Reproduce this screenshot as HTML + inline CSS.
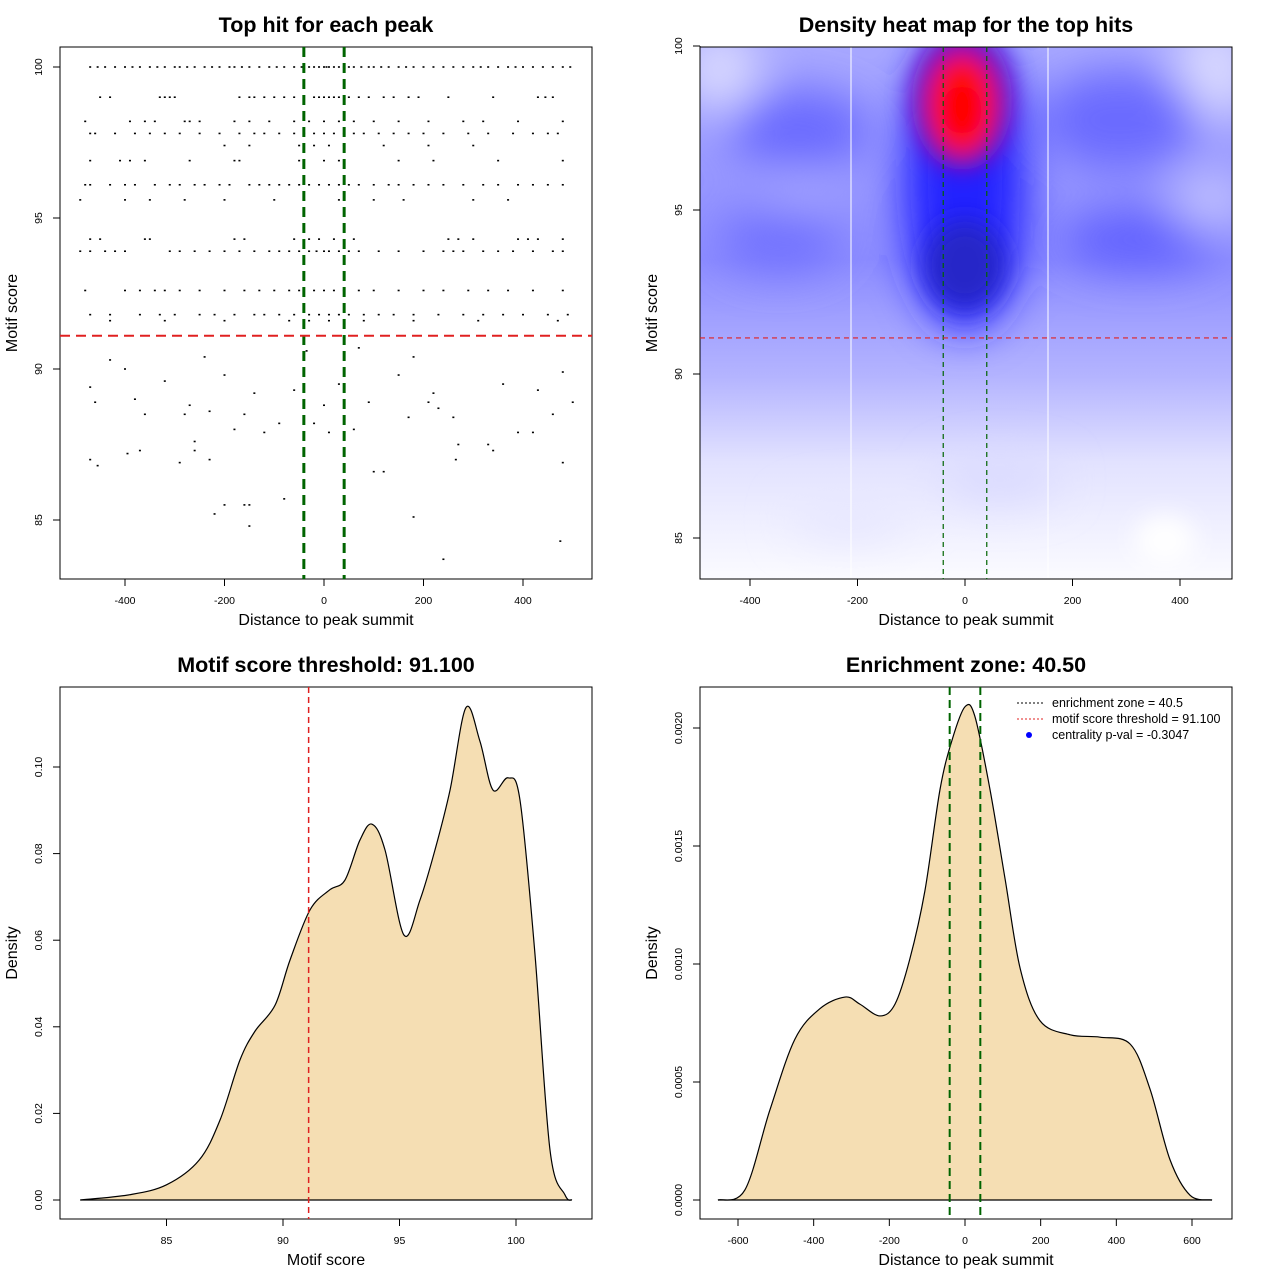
<!DOCTYPE html>
<html><head><meta charset="utf-8"><style>
html,body{margin:0;padding:0;background:#fff;}
svg{display:block;font-family:"Liberation Sans",sans-serif;}
</style></head><body>
<svg id="s" width="1280" height="1280" viewBox="0 0 1280 1280" xmlns="http://www.w3.org/2000/svg">
<defs>
<clipPath id="hc"><rect x="700" y="47" width="532" height="532"/></clipPath>
<filter id="bl" x="-50%" y="-50%" width="200%" height="200%"><feGaussianBlur stdDeviation="22"/></filter>
<filter id="bl2" x="-50%" y="-50%" width="200%" height="200%"><feGaussianBlur stdDeviation="12"/></filter>
<linearGradient id="bg" x1="0" y1="0" x2="0" y2="1">
<stop offset="0" stop-color="#a8a8ff"/><stop offset="0.4" stop-color="#8c8cff"/><stop offset="0.62" stop-color="#b4b4ff"/><stop offset="0.78" stop-color="#e2e2ff"/><stop offset="1" stop-color="#fbfbff"/>
</linearGradient>
</defs>
<g id="heat" clip-path="url(#hc)">
<rect x="700" y="47" width="532" height="532" fill="url(#bg)"/>
<g filter="url(#bl)">
<ellipse cx="720" cy="70" rx="40" ry="40" fill="#d8d8ff"/>
<ellipse cx="1215" cy="70" rx="40" ry="50" fill="#d8d8ff"/>
<ellipse cx="800" cy="130" rx="70" ry="40" fill="#6a6aff"/>
<ellipse cx="1120" cy="120" rx="80" ry="50" fill="#6a6aff"/>
<ellipse cx="1140" cy="240" rx="80" ry="30" fill="#6060ff"/>
<ellipse cx="780" cy="240" rx="60" ry="30" fill="#7070ff"/>
<ellipse cx="800" cy="190" rx="40" ry="20" fill="#a8a8ff"/>
<ellipse cx="1210" cy="200" rx="40" ry="30" fill="#c0c0ff"/>
<ellipse cx="965" cy="180" rx="62" ry="150" fill="#2020ff"/>
<ellipse cx="1000" cy="480" rx="60" ry="20" fill="#d8d8ff"/>
<ellipse cx="850" cy="520" rx="60" ry="20" fill="#e6e6ff"/>
</g>
<g filter="url(#bl2)">
<ellipse cx="965" cy="265" rx="40" ry="45" fill="#2828c8"/>
<ellipse cx="962" cy="100" rx="50" ry="70" fill="#7010c0"/>
<ellipse cx="962" cy="105" rx="35" ry="52" fill="#ff1010"/>
<ellipse cx="962" cy="110" rx="20" ry="25" fill="#ff0000"/>
<ellipse cx="1165" cy="540" rx="30" ry="25" fill="#ffffff"/>
</g>
<line x1="851" y1="47" x2="851" y2="579" stroke="#fff" stroke-width="1"/>
<line x1="1048" y1="47" x2="1048" y2="579" stroke="#fff" stroke-width="1"/>
</g>
</svg>
<script>
const hitRows = [
 [100,[-470,-455,-440,-420,-400,-385,-370,-350,-335,-320,-300,-290,-275,-260,-240,-225,-210,-190,-180,-165,-150,-130,-110,-95,-80,-60,-45,-30,-20,-10,0,5,10,20,30,40,50,60,75,90,100,115,130,150,165,180,200,220,240,260,280,300,315,330,350,370,385,400,420,440,460,480,495]],
 [99,[-450,-430,-330,-320,-310,-300,-170,-150,-140,-120,-100,-80,-60,-20,-10,0,10,20,30,50,70,90,120,140,170,190,250,340,430,445,460]],
 [98.2,[-480,-390,-360,-340,-280,-270,-250,-180,-150,-110,-60,-30,0,30,60,100,150,210,280,320,390,480]],
 [97.8,[-470,-460,-420,-380,-350,-320,-290,-250,-210,-170,-140,-120,-90,-60,-40,-20,0,20,40,60,80,110,140,170,200,240,290,330,380,420,450,470]],
 [97.4,[-200,-150,-50,-20,10,40,120,210,300]],
 [96.9,[-470,-410,-390,-360,-270,-180,-170,-50,0,30,150,220,350,480]],
 [96.1,[-480,-470,-430,-400,-380,-340,-310,-290,-260,-240,-210,-190,-150,-130,-110,-90,-70,-50,-30,-10,10,30,50,70,100,130,150,180,210,240,280,320,350,390,420,450,480]],
 [95.6,[-490,-400,-350,-280,-200,-100,-40,30,100,160,300,370]],
 [94.3,[-470,-450,-360,-350,-180,-160,-60,-30,-10,20,60,250,270,300,390,410,430,480]],
 [93.9,[-490,-470,-440,-420,-400,-310,-290,-260,-230,-200,-170,-140,-110,-90,-70,-50,-30,-15,0,10,30,50,70,110,150,200,240,260,280,320,350,380,420,460,480]],
 [92.6,[-480,-400,-370,-340,-320,-290,-250,-200,-160,-130,-100,-70,-50,-20,0,20,40,70,100,150,200,240,290,330,370,420,480]],
 [91.8,[-470,-430,-370,-330,-300,-250,-220,-180,-140,-120,-90,-60,-30,-10,10,30,50,80,110,140,180,230,280,320,360,400,450,490]],
 [91.6,[-430,-320,-200,-70,-30,10,80,180,310,470]]
];
const sparseHits = [[-470,89.4],[-460,88.9],[-430,90.3],[-400,90],[-380,89],[-360,88.5],[-320,89.6],[-280,88.5],[-270,88.8],[-240,90.4],[-230,88.6],[-200,89.8],[-180,88],[-160,88.5],[-140,89.2],[-120,87.9],[-90,88.2],[-60,89.3],[-35,90.6],[-20,88.2],[0,88.8],[10,87.9],[30,89.5],[60,88],[70,90.7],[90,88.9],[120,86.6],[150,89.8],[170,88.4],[180,90.4],[210,88.9],[220,89.2],[230,88.7],[260,88.4],[270,87.5],[330,87.5],[360,89.5],[390,87.9],[430,89.3],[460,88.5],[480,89.9],[500,88.9],[-470,87],[-455,86.8],[-395,87.2],[-370,87.3],[-290,86.9],[-260,87.3],[-260,87.6],[-230,87],[-160,85.5],[-150,84.8],[-150,85.5],[-220,85.2],[-200,85.5],[-80,85.7],[40,85.8],[100,86.6],[180,85.1],[240,83.7],[420,87.9],[475,84.3],[480,86.9],[265,87],[340,87.3]];
const scoreDensX = [81.3,83.4,85,86.4,87.3,88.15,88.8,89.66,90.3,91.16,92.0,92.66,93.3,93.82,94.38,95.19,95.88,96.52,97.17,97.85,98.45,99.01,99.66,100.17,100.8,101.46,102.1,102.4];
const scoreDensY = [0,0.0012,0.0035,0.0092,0.0185,0.0323,0.039,0.045,0.0554,0.067,0.0716,0.0739,0.0831,0.0868,0.0808,0.0612,0.0693,0.0808,0.0947,0.1137,0.106,0.0947,0.0975,0.0924,0.0577,0.0115,0.0012,0];
const distDensX = [-653,-582,-516,-450,-384,-317,-278,-225,-185,-146,-106,-66,-34,0,26,66,106,146,198,278,357,437,489,542,595,653];
const distDensY = [0,0.000042,0.00038,0.00068,0.00081,0.00086,0.00083,0.00078,0.00083,0.00102,0.00131,0.00174,0.00195,0.00209,0.00205,0.00174,0.00136,0.00098,0.00076,0.0007,0.00069,0.00066,0.00047,0.00017,0.00002,0];
const enrichZone = 40.5;
const scoreThreshold = 91.1;
const ticks1X = [-400,-200,0,200,400], ticks1Y = [85,90,95,100];
const ticks3X = [85,90,95,100], ticks3Y = [0,0.02,0.04,0.06,0.08,0.10];
const ticks4X = [-600,-400,-200,0,200,400,600], ticks4Y = [0,0.0005,0.001,0.0015,0.002];

const NS="http://www.w3.org/2000/svg", svg=document.getElementById('s');
function mk(tag, at, parent){const e=document.createElementNS(NS,tag);for(const k in at)e.setAttribute(k,at[k]);(parent||svg).appendChild(e);return e;}
function lin(d0,d1,p0,p1){return v=>p0+(v-d0)*(p1-p0)/(d1-d0);}
const panels=[
 {x0:60,y0:47,sx:lin(0,400,324,523),sy:lin(90,100,369,67)},
 {x0:700,y0:47,sx:lin(0,400,965,1180),sy:lin(90,100,374,46)},
 {x0:60,y0:687,sx:lin(90,100,283,516),sy:lin(0,0.1,1200,767)},
 {x0:700,y0:687,sx:lin(0,600,965,1192),sy:lin(0,0.002,1200,728)}
];
function axes(p,tx,ty,fmtX,fmtY,title,xl,yl,i){
 const g=mk('g',{});
 
 
 const box=mk('rect',{x:p.x0,y:p.y0,width:532,height:532,fill:'none',stroke:'#000','stroke-width':1},g);
 
 
 const ax=mk('g',{},g);
 
 
 const by=p.y0+532;
 mk('line',{x1:p.sx(tx[0]),x2:p.sx(tx[tx.length-1]),y1:by,y2:by,stroke:'#000'},ax);
 tx.forEach(v=>{const x=p.sx(v);mk('line',{x1:x,x2:x,y1:by,y2:by+7,stroke:'#000'},ax);
  const t=mk('text',{x:x,y:by+25,'font-size':10.5,'text-anchor':'middle'},ax);t.textContent=fmtX(v);
  
  });
 const ay=mk('g',{},g);
 
 
 const lx=p.x0;
 mk('line',{x1:lx,x2:lx,y1:p.sy(ty[0]),y2:p.sy(ty[ty.length-1]),stroke:'#000'},ay);
 ty.forEach(v=>{const y=p.sy(v);mk('line',{x1:lx-7,x2:lx,y1:y,y2:y,stroke:'#000'},ay);
  const t=mk('text',{x:lx-18,y:y,'font-size':10.5,'text-anchor':'middle',transform:`rotate(-90 ${lx-18} ${y})`},ay);t.textContent=fmtY(v);
  
  });
 const tt=mk('text',{x:p.x0+266,y:p.y0-15,'font-size':21.5,'font-weight':'bold','text-anchor':'middle'},g);tt.textContent=title;
 
 
 const xt=mk('text',{x:p.x0+266,y:by+46,'font-size':16,'text-anchor':'middle'},g);xt.textContent=xl;
 
 
 const yx=p.x0-43, yy=p.y0+266;
 const yt=mk('text',{x:yx,y:yy,'font-size':16,'text-anchor':'middle',transform:`rotate(-90 ${yx} ${yy})`},g);yt.textContent=yl;
 
 
}
const f0=v=>String(v);
axes(panels[0],ticks1X,ticks1Y,f0,f0,'Top hit for each peak','Distance to peak summit','Motif score',0);
axes(panels[1],ticks1X,ticks1Y,f0,f0,'Density heat map for the top hits','Distance to peak summit','Motif score',1);
axes(panels[2],ticks3X,ticks3Y,f0,v=>v.toFixed(2),'Motif score threshold: 91.100','Motif score','Density',2);
axes(panels[3],ticks4X,ticks4Y,f0,v=>v.toFixed(4),'Enrichment zone: 40.50','Distance to peak summit','Density',3);

const p1=panels[0];
const pts=mk('g',{fill:'#000'});


hitRows.forEach(r=>r[1].forEach(x=>{const c=mk('rect',{x:p1.sx(x)-1,y:p1.sy(r[0])-0.8,width:2,height:1.6},pts);
 
 }));
sparseHits.forEach(h=>{const c=mk('rect',{x:p1.sx(h[0])-1,y:p1.sy(h[1])-0.8,width:2,height:1.6},pts);
 
 });
function vline(p,x,col,w,da,name){const l=mk('line',{x1:p.sx(x),x2:p.sx(x),y1:p.y0,y2:p.y0+532,stroke:col,'stroke-width':w,'stroke-dasharray':da});
 
 }
function hline(p,y,col,w,da,name){const l=mk('line',{x1:p.x0,x2:p.x0+532,y1:p.sy(y),y2:p.sy(y),stroke:col,'stroke-width':w,'stroke-dasharray':da});
 
 }
vline(p1,-enrichZone,'#006400',3,'10,6','enrichment-zone-left');
vline(p1,enrichZone,'#006400',3,'10,6','enrichment-zone-right');
hline(p1,scoreThreshold,'#e02020',2,'10,6','score-threshold-line');
const p2=panels[1];
vline(p2,-enrichZone,'#006400',1.2,'5,4','enrichment-zone-left');
vline(p2,enrichZone,'#006400',1.2,'5,4','enrichment-zone-right');
hline(p2,scoreThreshold,'#e02020',1.2,'5,4','score-threshold-line');

function smooth(P){let d=`M${P[0][0]},${P[0][1]}`;for(let i=0;i<P.length-1;i++){const a=P[Math.max(0,i-1)],b=P[i],c=P[i+1],e=P[Math.min(P.length-1,i+2)];
 d+=` C${b[0]+(c[0]-a[0])/6},${b[1]+(c[1]-a[1])/6} ${c[0]-(e[0]-b[0])/6},${c[1]-(e[1]-b[1])/6} ${c[0]},${c[1]}`;}return d;}
function dens(p,xs,ys,name){const P=xs.map((x,i)=>[p.sx(x),p.sy(ys[i])]);const d=smooth(P);
 const f=mk('path',{d:d+' Z',fill:'#f5deb3',stroke:'none'});
 
 
 const l=mk('path',{d:d,fill:'none',stroke:'#000','stroke-width':1.2});
 
 
 const b=mk('line',{x1:P[0][0],x2:P[P.length-1][0],y1:p.sy(0),y2:p.sy(0),stroke:'#000','stroke-width':1.2});
 
 }
const p3=panels[2];
dens(p3,scoreDensX,scoreDensY,'score-density');
vline(p3,scoreThreshold,'#e02020',1.5,'6,4','score-threshold-line');
const p4=panels[3];
dens(p4,distDensX,distDensY,'distance-density');
vline(p4,-enrichZone,'#006400',2,'8,5','enrichment-zone-left');
vline(p4,enrichZone,'#006400',2,'8,5','enrichment-zone-right');

const lg=mk('g',{'font-size':12.5});


const leg=[['enrichment zone = 40.5','#000','line'],['motif score threshold = 91.100','#e02020','line'],['centrality p-val = -0.3047','#0000ff','dot']];
leg.forEach((e,i)=>{const y=703+i*16;
 if(e[2]==='line'){mk('line',{x1:1017,x2:1043,y1:y,y2:y,stroke:e[1],'stroke-dasharray':'2,2'},lg);}
 else mk('circle',{cx:1029,cy:y,r:3,fill:e[1]},lg);
 const t=mk('text',{x:1052,y:y+4},lg);t.textContent=e[0];
 
 });
</script>
</body></html>
